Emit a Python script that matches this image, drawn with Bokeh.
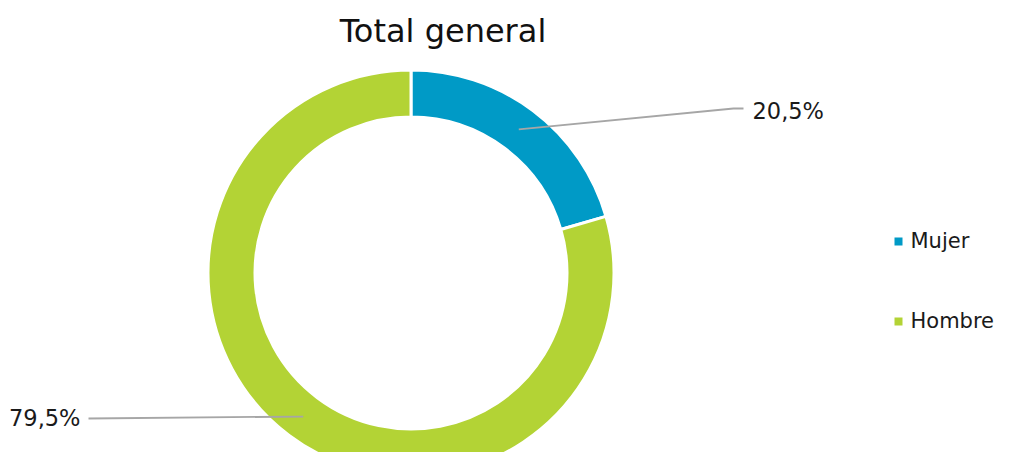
import math
from bokeh.plotting import figure
from bokeh.models import Range1d, ColumnDataSource
from bokeh.core.properties import value
from bokeh.embed import file_html
from bokeh.resources import INLINE

# ---- data ----
title_text = "Total general"
categories = ["Mujer", "Hombre"]
shares = [20.5, 79.5]
label_texts = ["20,5%", "79,5%"]
colors = ["#009AC6", "#B3D335"]

# ---- layout (pixels) ----
W, H = 995, 452
CX, CY = 410.5, H - 272.5
R_OUT, R_IN = 203, 156
FONT = "DejaVu Sans"

p = figure(width=W, height=H, output_backend="svg", toolbar_location=None,
           x_range=Range1d(0, W), y_range=Range1d(0, H), min_border=0,
           outline_line_color=None)
p.axis.visible = False
p.grid.visible = False

# wedges: start at 12 o'clock, clockwise
total = sum(shares)
starts, ends, mids = [], [], []
cur = math.pi / 2
for s in shares:
    span = 2 * math.pi * s / total
    ends.append(cur)
    starts.append(cur - span)
    mids.append(cur - span / 2)
    cur -= span

src = ColumnDataSource(dict(start=starts, end=ends, color=colors, cat=categories))
p.annular_wedge(x=CX, y=CY, inner_radius=R_IN, outer_radius=R_OUT,
                start_angle="start", end_angle="end", direction="anticlock",
                fill_color="color", line_color="white", line_width=3, source=src)

# leader lines and labels
r_mid = (R_IN + R_OUT) / 2
# per-label layout: (elbow x, elbow y, end x, end y, text x, text y, align)
label_layout = [
    (733, H - 108, 743, H - 108, 752, H - 110, "left"),
    (88, H - 418, 88, H - 418, 80, H - 417.5, "right"),
]
for ang, txt, (ex, ey, fx, fy, tx, ty, al) in zip(mids, label_texts, label_layout):
    sx = CX + r_mid * math.cos(ang)
    sy = CY + r_mid * math.sin(ang)
    p.line([sx, ex, fx], [sy, ey, fy], line_color="#A6A6A6", line_width=1.8)
    p.text(x=[tx], y=[ty], text=[txt], text_font=value(FONT), text_font_size="22.5px",
           text_align=al, text_baseline="middle", text_color="#1A1A1A")

# title
p.text(x=[442.5], y=[H - 30.5], text=[title_text], text_font=value(FONT),
       text_font_size="32px", text_align="center", text_baseline="middle",
       text_color="#111111")

# legend (shifted slightly left so it fits inside the figure)
leg_x = 898
leg_y = [H - 241, H - 321]
p.scatter(x=[leg_x] * len(categories), y=leg_y, marker="square", size=8,
          fill_color=colors, line_color=None)
p.text(x=[leg_x + 12] * len(categories), y=[yy + 0.5 for yy in leg_y], text=categories,
       text_font=value(FONT), text_font_size="21px", text_align="left",
       text_baseline="middle", text_color="#1A1A1A")

open("out.html", "w").write(file_html(p, INLINE))
